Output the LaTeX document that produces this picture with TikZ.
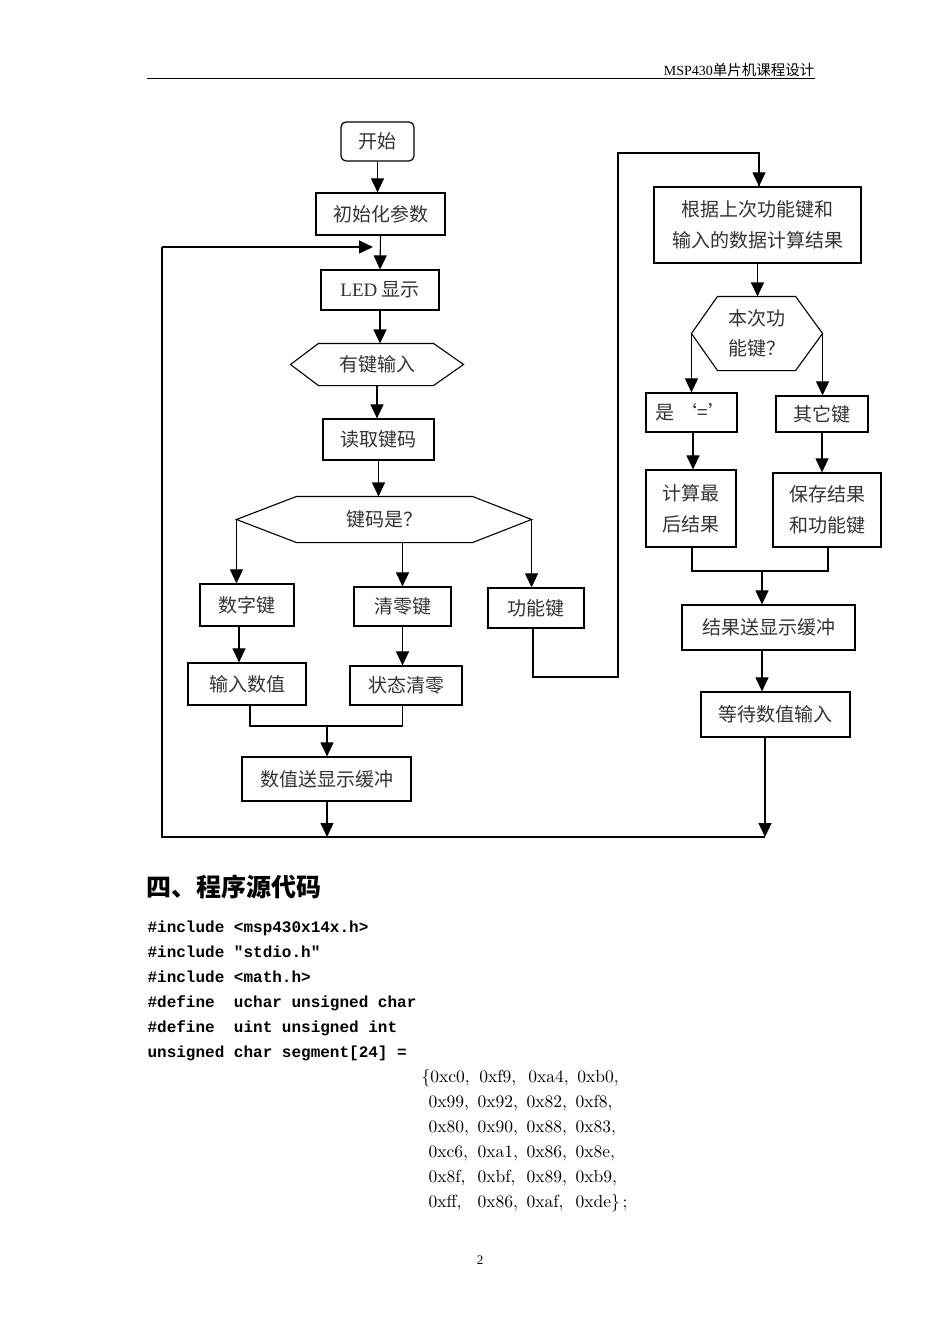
\documentclass[tikz,border=0pt]{standalone}
\usepackage{fontspec}
\newfontfamily\cjk{Noto Sans CJK SC}
\newfontfamily\tnr{Liberation Serif}
\newfontfamily\codef{Liberation Mono}
\newfontfamily\lmten{lmroman10-regular}[Extension=.otf]
\usetikzlibrary{arrows.meta}
\newcommand\hexit[1]{\makebox[49pt][l]{#1}}
\begin{document}
\begin{tikzpicture}[x=1pt,y=-1pt,line width=1.1pt,
  box/.style={draw,line width=1.2pt,inner sep=0pt,font=\cjk\fontsize{19}{31}\selectfont,text=black!80,align=center},
  hexlabel/.style={inner sep=0pt,font=\cjk\fontsize{19}{30}\selectfont,text=black!80,align=center},
  arr/.style={-{Triangle[width=13pt,length=14pt]}},
  code/.style={anchor=base west,inner sep=0pt,font=\codef\bfseries\fontsize{16}{16}\selectfont},
  hexline/.style={anchor=base west,inner sep=0pt,font=\lmten\fontsize{17.5}{17.5}\selectfont}]
\useasboundingbox[fill=white] (0,0) rectangle (945,1338);

% header
\node[anchor=base east,inner sep=0pt] (hdr) at (815,75) {{\tnr\fontsize{14}{14}\selectfont MSP430}{\cjk\fontsize{14.5}{14.5}\selectfont 单片机课程设计}};
\draw[line width=0.9pt] (147,78) -- (815,78);

% left column
\node[box,rounded corners=5pt,minimum width=73,minimum height=39] (st) at (377.5,141.5) {开始};
\node[box,minimum width=129,minimum height=42] (ini) at (380.5,214) {初始化参数};
\node[box,minimum width=118,minimum height=40] (led) at (380,290) {{\tnr LED} 显示};
\node[hexlabel,minimum width=172,minimum height=41] (h1) at (377,364.5) {有键输入};
\draw[line width=1.1pt] (h1.west) -- ([xshift=28]h1.north west) -- ([xshift=-30]h1.north east) -- (h1.east) -- ([xshift=-30]h1.south east) -- ([xshift=28]h1.south west) -- cycle;
\node[box,minimum width=111,minimum height=41] (rd) at (378.5,439.5) {读取键码};
\node[hexlabel,minimum width=294,minimum height=45] (k2) at (384,519.5) {键码是？};
\draw[line width=1.1pt] (k2.west) -- ([xshift=60]k2.north west) -- ([xshift=-59]k2.north east) -- (k2.east) -- ([xshift=-59]k2.south east) -- ([xshift=60]k2.south west) -- cycle;

\node[box,minimum width=94,minimum height=42] (d1) at (247,605) {数字键};
\node[box,minimum width=97,minimum height=39] (c1) at (402.5,606.5) {清零键};
\node[box,minimum width=96,minimum height=40] (f1) at (536,608) {功能键};
\node[box,minimum width=118,minimum height=42] (d2) at (247,684) {输入数值};
\node[box,minimum width=112,minimum height=39] (c2) at (406,685.5) {状态清零};
\node[box,minimum width=169,minimum height=44] (s1) at (326.5,779) {数值送显示缓冲};

% right column
\node[box,minimum width=207,minimum height=76] (r1) at (757.5,225) {根据上次功能键和\\输入的数据计算结果};
\node[hexlabel,minimum width=130,minimum height=73] (h3) at (757,333.5) {本次功\\能键？};
\draw[line width=1.1pt] (h3.west) -- ([xshift=26]h3.north west) -- ([xshift=-27]h3.north east) -- (h3.east) -- ([xshift=-27]h3.south east) -- ([xshift=26]h3.south west) -- cycle;
\node[box,minimum width=91,minimum height=39] (y1) at (691.5,412.5) {是 ‘=’};
\node[box,minimum width=92,minimum height=36] (o1) at (822,414) {其它键};
\node[box,minimum width=90,minimum height=77] (y2) at (691,508.5) {计算最\\后结果};
\node[box,minimum width=108,minimum height=74] (o2) at (827,510) {保存结果\\和功能键};
\node[box,minimum width=173,minimum height=45] (r2) at (768.5,627.5) {结果送显示缓冲};
\node[box,minimum width=149,minimum height=45] (w1) at (775.5,714.5) {等待数值输入};

% helper coordinates
\coordinate (tL) at (162,247);
\coordinate (tR) at (373,247);
\coordinate (bL) at (162,837);
\coordinate (bR) at (765,837);
\coordinate (mL) at (327,726);
\coordinate (mR) at (762,571);
\coordinate (fA) at (533,677);
\coordinate (fB) at (618,677);
\coordinate (fC) at (618,153);

% connectors left
\draw[arr] (st.south) -- (st.south |- ini.north);
\draw[arr] (ini.south) -- (led.north);
\draw[arr] (led.south) -- (led.south |- h1.north);
\draw[arr] (h1.south) -- (h1.south |- rd.north);
\draw[arr] (rd.south) -- (rd.south |- k2.north);
\draw[arr] (k2.west) -- (k2.west |- d1.north);
\draw[arr] (c1.north |- k2.south) -- (c1.north);
\draw[arr] (k2.east) -- (k2.east |- f1.north);
\draw[arr] ([xshift=-8]d1.south) -- ([xshift=-8]d2.north);
\draw[arr] (c1.south) -- (c1.south |- c2.north);
\draw ([xshift=3]d2.south) |- (mL) -| (c2.south -| c1.south);
\draw[arr] (mL) -- (mL |- s1.north);
\draw[arr] (s1.south -| mL) -- (mL |- bL);
\draw (f1.south -| fA) -- (fA) -- (fB) -- (fC) -| ([xshift=1.5]r1.north);
\draw[arr] ([xshift=1.5]r1.north |- fC) -- ([xshift=1.5]r1.north);

% connectors right
\draw[arr] (r1.south) -- (r1.south |- h3.north);
\draw[arr] (h3.west) -- (h3.west |- y1.north);
\draw[arr] (h3.east) -- (h3.east |- o1.north);
\draw[arr] ([xshift=1.5]y1.south) -- ([xshift=1.5]y1.south |- y2.north);
\draw[arr] (o1.south) -- (o1.south |- o2.north);
\draw ([xshift=1]y2.south) |- (mR) -| ([xshift=1]o2.south);
\draw[arr] (mR) -- (mR |- r2.north);
\draw[arr] (r2.south -| mR) -- (w1.north -| mR);
\draw[arr] (w1.south -| bR) -- (bR);

% loop back
\draw (bR) -- (bL) -- (tL);
\draw[arr] (tL) -- (tR);

% text below
\node[anchor=west,inner sep=0pt,font=\cjk\bfseries\fontsize{25}{25}\selectfont] (hd) at (146,887) {四、程序源代码};
\node[code] (l1) at (147,932) {\#include <msp430x14x.h>};
\node[code] (l2) at (147,957) {\#include "stdio.h"};
\node[code] (l3) at (147,982) {\#include <math.h>};
\node[code] (l4) at (147,1007) {\#define\ \ uchar unsigned char};
\node[code] (l5) at (147,1032) {\#define\ \ uint unsigned int};
\node[code] (l6) at (147,1057) {unsigned char segment[24] =};
\node[hexline] (a1) at (421,1082) {\{\hexit{0xc0,}\hexit{0xf9,}\hexit{0xa4,}0xb0,};
\node[hexline] (a2) at (428,1107) {\hexit{0x99,}\hexit{0x92,}\hexit{0x82,}0xf8,};
\node[hexline] (a3) at (428,1132) {\hexit{0x80,}\hexit{0x90,}\hexit{0x88,}0x83,};
\node[hexline] (a4) at (428,1157) {\hexit{0xc6,}\hexit{0xa1,}\hexit{0x86,}0x8e,};
\node[hexline] (a5) at (428,1182) {\hexit{0x8f,}\hexit{0xbf,}\hexit{0x89,}0xb9,};
\node[hexline] (a6) at (428,1207) {\hexit{0xff,}\hexit{0x86,}\hexit{0xaf,}0xde\}\,;};
\node[inner sep=0pt,font=\tnr\fontsize{13}{13}\selectfont] (pg) at (480,1260) {2};
\end{tikzpicture}
\end{document}
